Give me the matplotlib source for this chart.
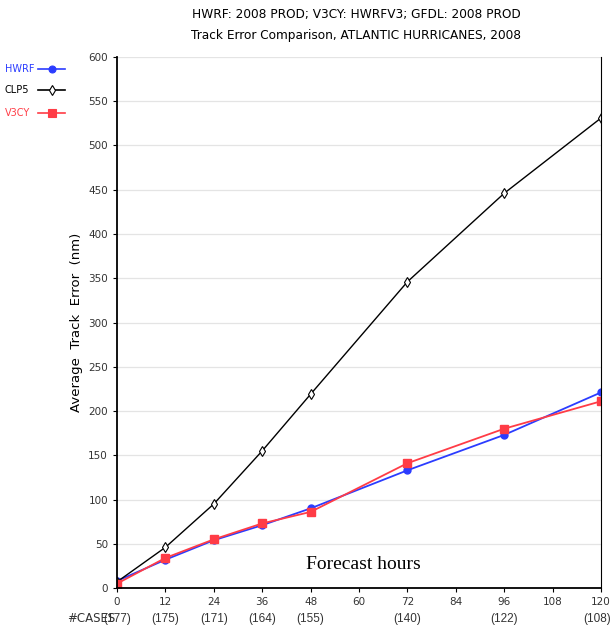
import numpy as np
import matplotlib.pyplot as plt
from matplotlib.transforms import offset_copy

hours = [0, 12, 24, 36, 48, 72, 96, 120]
cases = [177, 175, 171, 164, 155, 140, 122, 108]

hwrf = [8, 32, 54, 71, 90, 133, 173, 221]
clp5 = [7, 46, 95, 155, 219, 346, 446, 531]
v3cy = [5, 34, 55, 73, 86, 141, 180, 211]

fig = plt.figure(figsize=(6.14, 6.31), dpi=100)
ax = fig.add_axes([0.1906, 0.0681, 0.7882, 0.8416])

for v in range(50, 601, 50):
    ax.axhline(v, color="#e4e4e4", lw=0.9, zorder=0)

ax.plot(hours, hwrf, color="#2b3cff", lw=1.3, marker="o", ms=5, label="HWRF")
ax.plot(hours, clp5, color="black", lw=1.0, marker="d", ms=5, mew=0.8,
        mfc="white", mec="black", label="CLP5")
ax.plot(hours, v3cy, color="#ff3c46", lw=1.3, marker="s", ms=6, label="V3CY")

ax.set_xlim(0, 120)
ax.set_ylim(0, 600)
ax.set_xticks(range(0, 121, 12))
ax.set_yticks(range(0, 601, 50))
ax.tick_params(labelsize=7.5, length=3, width=0.8, direction="out", colors="#333333")
ax.tick_params(color="black")
ax.spines["top"].set_visible(False)
ax.spines["left"].set_linewidth(1.3)
ax.spines["bottom"].set_linewidth(1.3)
ax.spines["right"].set_linewidth(0.8)

ax.set_ylabel("Average  Track  Error  (nm)", fontsize=9.5, labelpad=4)
ax.text(0.51, 0.035, "Forecast hours", transform=ax.transAxes, ha="center",
        fontsize=14, family="Liberation Serif")

# number of cases row
ax.text(-0.103, -0.058, "#CASES", transform=ax.transAxes, fontsize=8.5, va="center",
        ha="left", color="#333333")
xt = ax.get_xaxis_transform()
for h, c in zip(hours, cases):
    tr = offset_copy(xt, fig=fig, x=-3 if h == 120 else 0, y=0, units="points")
    ax.text(h, -0.058, "(%d)" % c, transform=tr, fontsize=8.5,
            ha="center", va="center", family="Liberation Sans", color="#333333")

fig.text(0.58, 0.977, "HWRF: 2008 PROD; V3CY: HWRFV3; GFDL: 2008 PROD",
         ha="center", va="center", fontsize=8.7)
fig.text(0.58, 0.944, "Track Error Comparison, ATLANTIC HURRICANES, 2008",
         ha="center", va="center", fontsize=8.7)

# legend on the left
legend_items = [("HWRF", "#2b3cff", "o", "#2b3cff", 5),
                ("CLP5", "black", "d", "white", 5),
                ("V3CY", "#ff3c46", "s", "#ff3c46", 6)]
ys = [0.891, 0.857, 0.821]
for (name, col, mk, fc, ms), y in zip(legend_items, ys):
    fig.text(0.008, y, name, color=col, fontsize=7, va="center")
    fig.add_artist(plt.Line2D([0.062, 0.106], [y, y], color=col, lw=1.2,
                              transform=fig.transFigure))
    fig.add_artist(plt.Line2D([0.084], [y], marker=mk, ms=ms, color=col, mfc=fc,
                              mec=col, mew=0.8, transform=fig.transFigure))

fig.savefig("out.png", dpi=100)
